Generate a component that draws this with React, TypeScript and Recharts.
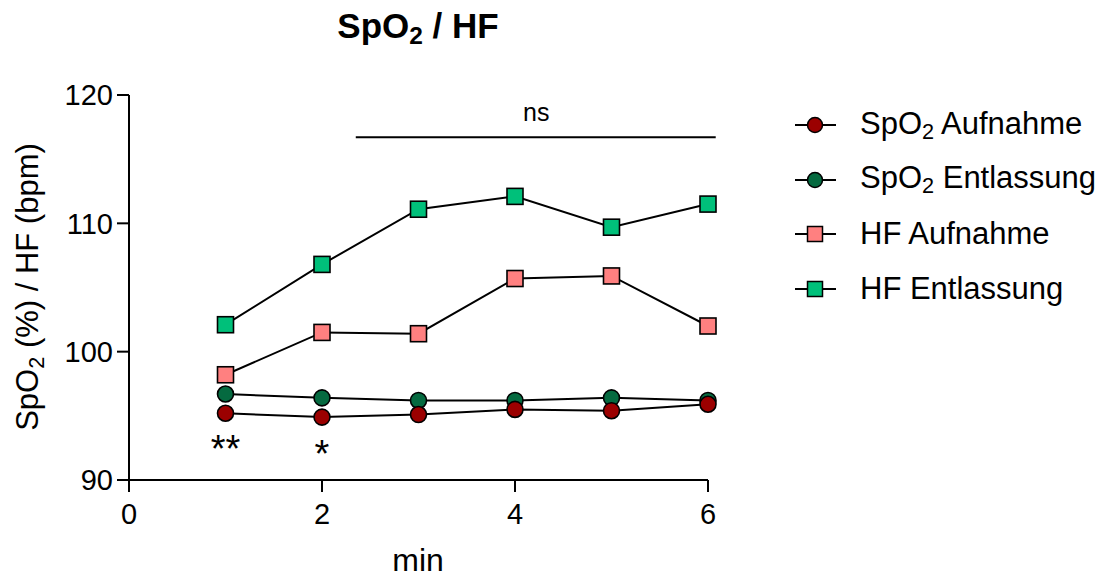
import React from "react";
import {
  LineChart,
  Line,
  XAxis,
  YAxis,
  ReferenceLine,
  ReferenceDot,
} from "recharts";

// Zeitpunkte (min) und Messwerte je Gruppe
const minutes = [1, 2, 3, 4, 5, 6];
const spo2Aufnahme = [95.2, 94.9, 95.1, 95.5, 95.4, 95.9];
const spo2Entlassung = [96.7, 96.4, 96.2, 96.2, 96.4, 96.2];
const hfAufnahme = [98.2, 101.5, 101.4, 105.7, 105.9, 102.0];
const hfEntlassung = [102.1, 106.8, 111.1, 112.1, 109.7, 111.5];

const xTicks = [0, 2, 4, 6];
const yTicks = [90, 100, 110, 120];

// Signifikanz-Markierungen
const stars = [
  { x: 1, y: 91.4, text: "**" },
  { x: 2, y: 91.0, text: "*" },
];
const nsBar = { from: 2.35, to: 6.08, y: 116.7, labelX: 4.22, labelY: 118.0 };

const FONT = "Liberation Sans, Arial, Helvetica, sans-serif";

const series = [
  { key: "spo2Ent", name: "SpO2 Entlassung", color: "#056a40" },
  { key: "spo2Auf", name: "SpO2 Aufnahme", color: "#9b0000" },
];

const legendItems = [
  { label: ["SpO", "2", " Aufnahme"], color: "#9b0000", shape: "circle" },
  { label: ["SpO", "2", " Entlassung"], color: "#056a40", shape: "circle" },
  { label: ["HF Aufnahme"], color: "#ff8080", shape: "square" },
  { label: ["HF Entlassung"], color: "#00c07a", shape: "square" },
];

const data = minutes.map((m, i) => ({
  min: m,
  spo2Auf: spo2Aufnahme[i],
  spo2Ent: spo2Entlassung[i],
  hfAuf: hfAufnahme[i],
  hfEnt: hfEntlassung[i],
}));

function squareDot(color: string) {
  return (props: any) => {
    const { cx, cy, index } = props;
    if (cx == null || cy == null) return <g key={index} />;
    return (
      <rect
        key={index}
        x={cx - 8}
        y={cy - 8}
        width={16}
        height={16}
        fill={color}
        stroke="#000"
        strokeWidth={1.6}
      />
    );
  };
}

function starShape(text: string) {
  return (props: any) => (
    <text
      x={props.cx}
      y={props.cy}
      textAnchor="middle"
      fontFamily={FONT}
      fontSize={38}
      fill="#000"
    >
      {text}
    </text>
  );
}

const sub = { fontSize: "0.7em", verticalAlign: "-0.25em" };

function LegendMarker({ color, shape }: { color: string; shape: string }) {
  return (
    <svg width={44} height={20} style={{ display: "block" }}>
      <line x1={1} y1={10} x2={42} y2={10} stroke="#000" strokeWidth={1.8} />
      {shape === "circle" ? (
        <circle cx={21} cy={10} r={7.5} fill={color} stroke="#000" strokeWidth={1.5} />
      ) : (
        <rect x={13.5} y={2.5} width={15} height={15} fill={color} stroke="#000" strokeWidth={1.5} />
      )}
    </svg>
  );
}

export default function App() {
  return (
    <div
      style={{
        position: "absolute",
        left: 0,
        top: 0,
        width: 1106,
        height: 577,
        background: "#fff",
        fontFamily: FONT,
        color: "#000",
      }}
    >
      <div
        style={{
          position: "absolute",
          left: 218,
          width: 400,
          top: 6,
          textAlign: "center",
          fontWeight: "bold",
          fontSize: 35,
        }}
      >
        SpO<sub style={sub}>2</sub> / HF
      </div>

      <div
        style={{
          position: "absolute",
          left: 30,
          top: 287,
          transform: "translate(-50%, -50%) rotate(-90deg)",
          whiteSpace: "nowrap",
          fontSize: 31,
        }}
      >
        SpO<sub style={sub}>2</sub> (%) / HF (bpm)
      </div>

      <div
        style={{
          position: "absolute",
          left: 318,
          width: 200,
          top: 542,
          textAlign: "center",
          fontSize: 32,
        }}
      >
        min
      </div>

      <div style={{ position: "absolute", left: 794, top: 98 }}>
        {legendItems.map((it, i) => (
          <div
            key={i}
            style={{ display: "flex", alignItems: "center", height: 54.5 }}
          >
            <LegendMarker color={it.color} shape={it.shape} />
            <span style={{ marginLeft: 22, fontSize: 31, whiteSpace: "nowrap" }}>
              {it.label[0]}
              {it.label.length > 1 && (
                <>
                  <sub style={sub}>{it.label[1]}</sub>
                  {it.label[2]}
                </>
              )}
            </span>
          </div>
        ))}
      </div>

      <LineChart
        width={1106}
        height={577}
        data={data}
        margin={{ top: 95, right: 398, left: 49, bottom: 37 }}
        style={{ position: "absolute", left: 0, top: 0 }}
      >
        <XAxis
          dataKey="min"
          type="number"
          domain={[0, 6]}
          ticks={xTicks}
          height={60}
          tickSize={12}
          axisLine={{ stroke: "#000", strokeWidth: 2 }}
          tickLine={{ stroke: "#000", strokeWidth: 2 }}
          tick={{ fill: "#000", fontSize: 29, fontFamily: FONT }}
          tickMargin={11}
        />
        <YAxis
          type="number"
          domain={[90, 120]}
          ticks={yTicks}
          width={80}
          tickSize={12}
          axisLine={{ stroke: "#000", strokeWidth: 2 }}
          tickLine={{ stroke: "#000", strokeWidth: 2 }}
          tick={{ fill: "#000", fontSize: 29, fontFamily: FONT }}
          tickMargin={4}
        />
        <Line
          dataKey="hfEnt"
          name="HF Entlassung"
          stroke="#000"
          strokeWidth={2}
          dot={squareDot("#00c07a")}
          isAnimationActive={false}
        />
        <Line
          dataKey="hfAuf"
          name="HF Aufnahme"
          stroke="#000"
          strokeWidth={2}
          dot={squareDot("#ff8080")}
          isAnimationActive={false}
        />
        {series.map((s) => (
          <Line
            key={s.key}
            dataKey={s.key}
            name={s.name}
            stroke="#000"
            strokeWidth={2}
            dot={{ r: 8, fill: s.color, stroke: "#000", strokeWidth: 1.6 }}
            isAnimationActive={false}
          />
        ))}
        <ReferenceLine
          segment={[
            { x: nsBar.from, y: nsBar.y },
            { x: nsBar.to, y: nsBar.y },
          ]}
          stroke="#000"
          strokeWidth={2}
          ifOverflow="visible"
        />
        <ReferenceDot
          x={nsBar.labelX}
          y={nsBar.labelY}
          ifOverflow="visible"
          shape={(p: any) => (
            <text x={p.cx} y={p.cy} textAnchor="middle" fontFamily={FONT} fontSize={25}>
              ns
            </text>
          )}
        />
        {stars.map((s, i) => (
          <ReferenceDot
            key={i}
            x={s.x}
            y={s.y}
            ifOverflow="visible"
            shape={starShape(s.text)}
          />
        ))}
      </LineChart>
    </div>
  );
}
